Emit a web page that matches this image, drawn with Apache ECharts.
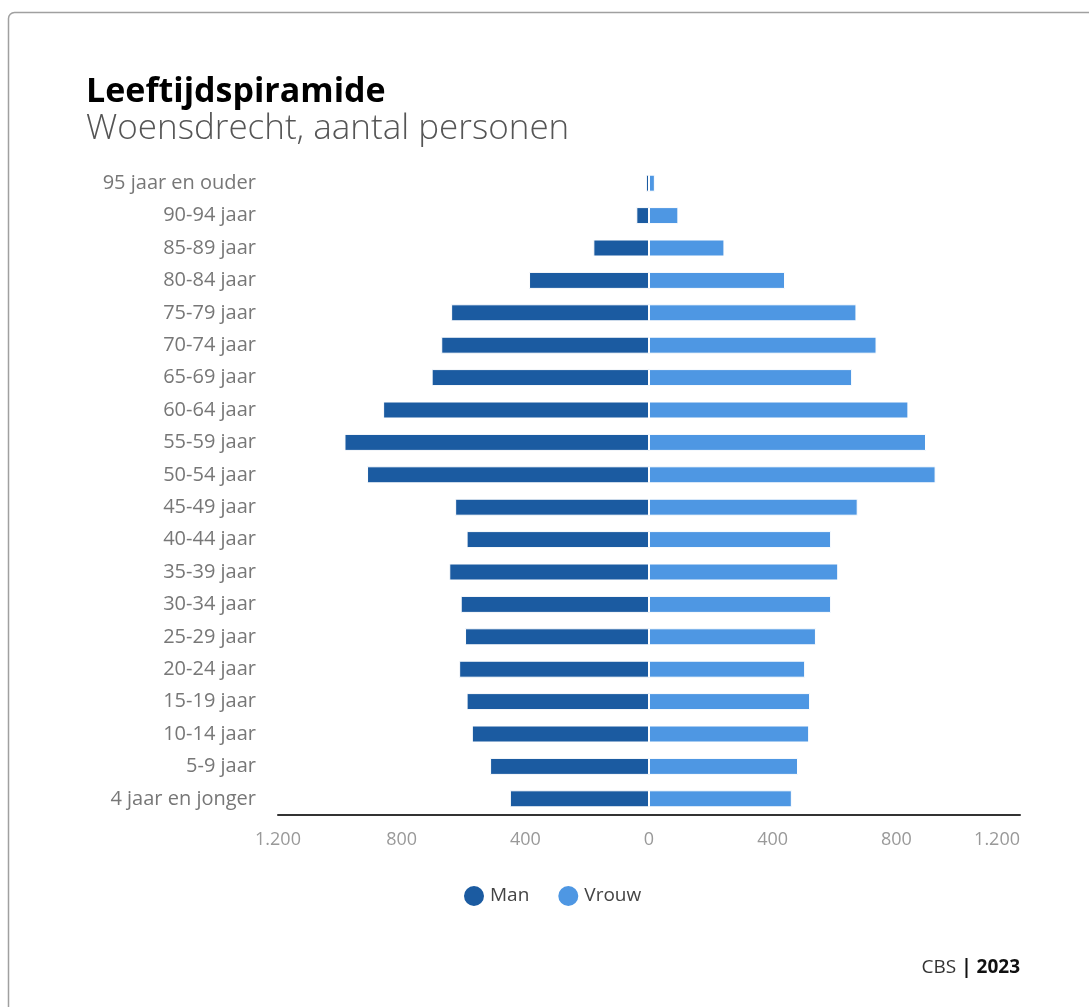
<!DOCTYPE html>
<head>
    <meta charset="utf-8">
    <title>Leeftijdspiramide</title>
    <script src="https://cdn.jsdelivr.net/npm/echarts@6/dist/echarts.min.js"></script>
    <style>
        html, body { margin:0; padding:0; background:#fff; }
    </style>
</head>
<body>
    <div id="container" style="width:1089px;height:1007px"></div>
    <script type="text/javascript">

        // leeftijdsgroepen, van jong naar oud
        var categories = ['4 jaar en jonger', '5-9 jaar', '10-14 jaar', '15-19 jaar', '20-24 jaar',
            '25-29 jaar', '30-34 jaar', '35-39 jaar', '40-44 jaar', '45-49 jaar', '50-54 jaar',
            '55-59 jaar', '60-64 jaar', '65-69 jaar', '70-74 jaar', '75-79 jaar', '80-84 jaar',
            '85-89 jaar', '90-94 jaar', '95 jaar en ouder'];
        var man = [450, 514, 573, 590, 614, 595, 609, 646, 590, 627, 912, 985, 860, 703, 672, 640, 388, 180, 41, 10];
        var vrouw = [462, 482, 518, 521, 505, 540, 589, 612, 589, 675, 927, 896, 839, 657, 736, 671, 440, 244, 95, 19];
        var xTicks = [-1200, 1200, 400]; // min, max, interval

        var font = '"Open Sans", sans-serif';

        // 1200 -> "1.200", negatieve waarden (mannen) als positief tonen
        function fmt(v) {
            v = Math.abs(v);
            return String(v).replace(/\B(?=(\d{3})+(?!\d))/g, '.');
        }

        var dom = document.getElementById("container");
        var myChart = echarts.init(dom);

        var option = {
            animation: false,
            textStyle: { fontFamily: font },
            graphic: [
                {
                    type: 'rect',
                    shape: { x: 8.5, y: 12.5, width: 1200, height: 1200, r: 6 },
                    style: { fill: 'none', stroke: '#a0a0a0', lineWidth: 1.5 },
                    z: -1
                },
                {
                    type: 'text', left: 86, top: 75,
                    style: { text: 'Leeftijdspiramide', fontSize: 34, fontWeight: 'bold', fill: '#000', fontFamily: font }
                },
                {
                    type: 'text', left: 86, top: 112,
                    style: { text: 'Woensdrecht, aantal personen', fontSize: 35, fontWeight: 300, fill: '#555', fontFamily: font }
                },
                {
                    type: 'text', right: 69, top: 958,
                    style: {
                        text: '{a|CBS }{b|| 2023}',
                        rich: {
                            a: { fontSize: 19, fill: '#333', fontFamily: font },
                            b: { fontSize: 19, fill: '#111', fontWeight: 'bold', fontFamily: font }
                        }
                    }
                }
            ],
            legend: {
                data: ['Man', 'Vrouw'],
                left: 457,
                top: 879,
                icon: 'circle',
                itemWidth: 22,
                itemHeight: 22,
                itemGap: 27,
                textStyle: { fontSize: 19, color: '#444', padding: [0, 0, 0, 0] }
            },
            grid: { left: 278, right: 69, top: 167, bottom: 192, containLabel: false },
            xAxis: {
                type: 'value',
                min: xTicks[0],
                max: xTicks[1],
                interval: xTicks[2],
                axisLine: { show: true, lineStyle: { color: '#333', width: 2 } },
                axisTick: { show: false },
                splitLine: { show: false },
                axisLabel: { color: '#999', fontSize: 18, margin: 16, formatter: fmt, alignMaxLabel: 'right' }
            },
            yAxis: {
                type: 'category',
                data: categories,
                axisLine: { show: false },
                axisTick: { show: false },
                axisLabel: { color: '#777', fontSize: 20, margin: 22 }
            },
            series: [
                {
                    name: 'Man',
                    type: 'bar',
                    barWidth: 17,
                    barGap: '-100%',
                    itemStyle: { color: '#1b5ba1', borderColor: '#fff', borderWidth: 1 },
                    data: man.map(function (v) { return -v; })
                },
                {
                    name: 'Vrouw',
                    type: 'bar',
                    barWidth: 17,
                    itemStyle: { color: '#4e97e3', borderColor: '#fff', borderWidth: 1 },
                    data: vrouw
                }
            ]
        };
        myChart.setOption(option);

</script>
</body>
